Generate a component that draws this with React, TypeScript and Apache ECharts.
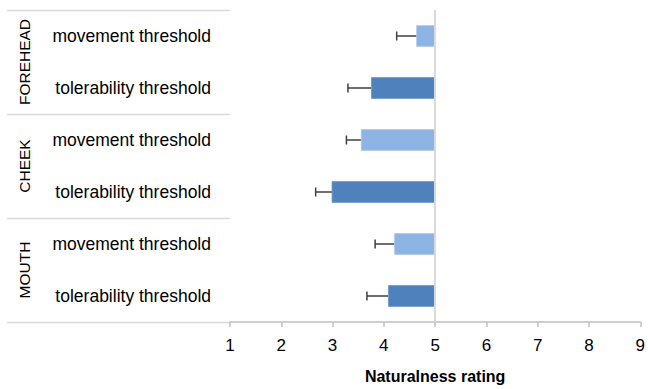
import React, { useEffect, useRef } from "react";
import * as echarts from "echarts";

const categories = [
  "movement threshold",
  "tolerability threshold",
  "movement threshold",
  "tolerability threshold",
  "movement threshold",
  "tolerability threshold",
];
const groups = ["FOREHEAD", "CHEEK", "MOUTH"];
const values = [4.64, 3.76, 3.56, 2.99, 4.21, 4.09];
const errorLow = [4.25, 3.3, 3.27, 2.67, 3.83, 3.67];
const kinds = ["movement", "tolerability", "movement", "tolerability", "movement", "tolerability"];
const baseline = 5;
const xTicks = [1, 2, 3, 4, 5, 6, 7, 8, 9];

const LIGHT = "#8EB4E3";
const DARK = "#4F81BD";
const FONT = "'Liberation Sans', Arial, sans-serif";

export default function App() {
  const ref = useRef<HTMLDivElement>(null);
  useEffect(() => {
    if (!ref.current) return;
    const chart = echarts.init(ref.current, null, { renderer: "svg" });
    const gridLeft = 230;
    const gridTop = 10;
    const gridBottom = 67;
    const H = 389;
    const plotH = H - gridTop - gridBottom;
    const band = plotH / categories.length;

    const graphics: any[] = [];
    for (let g = 0; g <= groups.length; g++) {
      const y = Math.round(gridTop + g * 2 * band) + 0.5;
      graphics.push({
        type: "line",
        shape: { x1: 7, y1: y, x2: gridLeft, y2: y },
        style: { stroke: "#D9D9D9", lineWidth: 1.5 },
        silent: true,
      });
    }
    groups.forEach((name, g) => {
      const cy = gridTop + (g * 2 + 1) * band;
      graphics.push({
        type: "text",
        x: 24,
        y: cy,
        rotation: Math.PI / 2,
        style: {
          text: name,
          fill: "#000",
          font: `15.5px ${FONT}`,
          align: "center",
          verticalAlign: "middle",
        },
        silent: true,
      });
    });

    const data = values.map((v, i) => [v, i, errorLow[i], kinds[i] === "movement" ? 0 : 1]);

    chart.setOption({
      animation: false,
      grid: { left: gridLeft, right: 6, top: gridTop, bottom: gridBottom, containLabel: false },
      xAxis: {
        type: "value",
        min: xTicks[0],
        max: xTicks[xTicks.length - 1],
        interval: 1,
        name: "Naturalness rating",
        nameLocation: "middle",
        nameGap: 46,
        nameTextStyle: { fontFamily: FONT, fontSize: 16, fontWeight: "bold", color: "#000" },
        axisLine: { show: true, lineStyle: { color: "#BFBFBF", width: 1.5 } },
        axisTick: { show: true, inside: false, length: 5, lineStyle: { color: "#BFBFBF", width: 1.5 } },
        axisLabel: { fontFamily: FONT, fontSize: 17, color: "#000", margin: 15 },
        splitLine: { show: false },
      },
      yAxis: {
        type: "category",
        inverse: true,
        data: categories,
        axisLine: { show: false },
        axisTick: { show: false },
        axisLabel: { fontFamily: FONT, fontSize: 17.5, color: "#000", margin: 19, align: "right" },
      },
      graphic: graphics,
      series: [
        {
          type: "custom",
          data,
          encode: { x: [0, 2], y: 1 },
          renderItem: (params: any, api: any) => {
            const v = api.value(0);
            const cat = api.value(1);
            const lo = api.value(2);
            const kind = api.value(3);
            const p0 = api.coord([v, cat]);
            const p1 = api.coord([baseline, cat]);
            const pe = api.coord([lo, cat]);
            const bh = api.size([0, 1])[1] * 0.4;
            const color = kind === 0 ? LIGHT : DARK;
            return {
              type: "group",
              children: [
                {
                  type: "line",
                  shape: { x1: pe[0], y1: p0[1], x2: p0[0], y2: p0[1] },
                  style: { stroke: "#404040", lineWidth: 1.5 },
                },
                {
                  type: "line",
                  shape: { x1: pe[0], y1: p0[1] - 4.5, x2: pe[0], y2: p0[1] + 4.5 },
                  style: { stroke: "#404040", lineWidth: 1.5 },
                },
                {
                  type: "rect",
                  shape: { x: p0[0], y: p0[1] - bh / 2, width: p1[0] - p0[0], height: bh },
                  style: { fill: color, stroke: kind === 0 ? "#A9C6EA" : "#6A95CA", lineWidth: 0.8 },
                },
              ],
            };
          },
          markLine: {
            silent: true,
            symbol: "none",
            label: { show: false },
            lineStyle: { color: "#D9D9D9", width: 2, type: "solid" },
            data: [{ xAxis: baseline }],
          },
        },
      ],
    });
    return () => chart.dispose();
  }, []);
  return (
    <div
      ref={ref}
      style={{ position: "fixed", left: 0, top: 0, width: 648, height: 389, background: "#fff" }}
    />
  );
}
